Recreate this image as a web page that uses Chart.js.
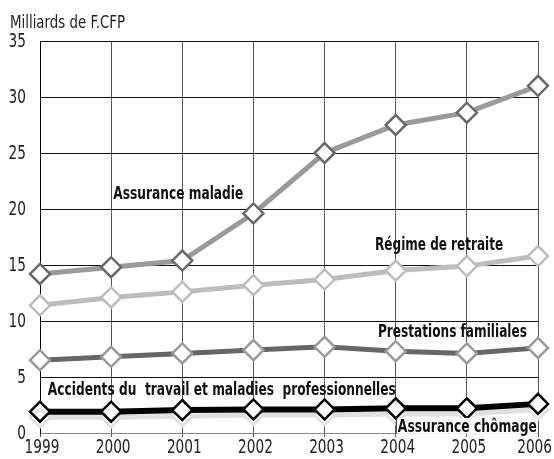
<!DOCTYPE html>
<html>
<head>
<meta charset="utf-8">
<script src="https://cdn.jsdelivr.net/npm/chart.js@4/dist/chart.umd.min.js"></script>
<style>
  html, body { margin: 0; padding: 0; background: #fff; }
  #wrap { width: 554px; height: 459px; }
</style>
</head>
<body>
<div id="wrap"><canvas id="chart" width="554" height="459"></canvas></div>
<script>
// ===== DATA =====
const years = ['1999', '2000', '2001', '2002', '2003', '2004', '2005', '2006'];
const maladie = [14.2, 14.8, 15.4, 19.6, 25.0, 27.5, 28.6, 31.0];
const retraite = [11.4, 12.1, 12.6, 13.2, 13.7, 14.5, 14.9, 15.8];
const familiales = [6.5, 6.8, 7.1, 7.4, 7.7, 7.3, 7.1, 7.6];
const accidents = [1.9, 1.9, 2.05, 2.1, 2.1, 2.2, 2.2, 2.6];
const chomage = [1.4, 1.4, 1.5, 1.6, 1.6, 1.7, 1.7, 2.1];
const yTicks = [0, 5, 10, 15, 20, 25, 30, 35];
const unitLabel = 'Milliards de F.CFP';

// series labels: [text, x index, y value, width, white background]
const seriesLabels = [
  ['Assurance maladie', 1.03, 20.9, 130, false],
  ['Régime de retraite', 4.71, 16.3, 128, false],
  ['Prestations familiales', 4.75, 8.6, 149, false],
  ['Accidents du  travail et maladies  professionnelles', 0.11, 3.4, 348, false],
  ['Assurance chômage', 5.03, 0.1, 139, true]
];

const FONT = "'DejaVu Sans Condensed', 'DejaVu Sans', sans-serif";
const SQUEEZE = 0.76; // condensed look for the tick labels

function serie(label, data, line, border, width, order) {
  return {
    label: label,
    data: data,
    borderColor: line,
    borderWidth: width,
    pointStyle: 'rectRot',
    pointRadius: 10,
    pointBorderWidth: 2.5,
    pointBorderColor: border,
    pointBackgroundColor: '#fff',
    tension: 0,
    order: order
  };
}

// ===== TEXT PLUGIN (ticks, unit, series names) =====
const labelPlugin = {
  id: 'labels',
  afterDraw(chart) {
    const ctx = chart.ctx;
    const xs = chart.scales.x, ys = chart.scales.y;
    ctx.save();
    ctx.fillStyle = '#222';

    // tick labels
    ctx.font = '20px ' + FONT;
    ctx.textBaseline = 'middle';
    ctx.textAlign = 'right';
    ys.ticks.forEach(t => {
      const s = String(t.value);
      const w = ctx.measureText(s).width * SQUEEZE;
      ctx.fillText(s, 26, ys.getPixelForValue(t.value) + 1, w);
    });
    years.forEach((y, i) => {
      const w = ctx.measureText(y).width * SQUEEZE;
      const cx = Math.min(xs.getPixelForValue(i) + 2, 552 - w / 2);
      ctx.textAlign = 'center';
      ctx.fillText(y, cx, 448, w);
    });

    // unit
    ctx.textAlign = 'left';
    ctx.textBaseline = 'alphabetic';
    ctx.font = '18px ' + FONT;
    ctx.fillText(unitLabel, 10, 28, 115);

    // series names
    ctx.font = 'bold 18px ' + FONT;
    seriesLabels.forEach(l => {
      const px = xs.left + (xs.right - xs.left) * l[1] / (years.length - 1);
      const py = ys.getPixelForValue(l[2]);
      if (l[4]) {
        ctx.fillStyle = '#fff';
        ctx.fillRect(px, py - 14, l[3], 16);
        ctx.strokeStyle = '#333';
        ctx.lineWidth = 1;
        ctx.beginPath();
        ctx.moveTo(px - 1.5, py - 14);
        ctx.lineTo(px - 1.5, py + 1);
        ctx.stroke();
      }
      ctx.fillStyle = '#111';
      ctx.fillText(l[0], px, py, l[3]);
    });
    ctx.restore();
  }
};

// ===== CHART =====
function initChart() {
  new Chart(document.getElementById('chart'), {
    type: 'line',
    data: {
      labels: years,
      datasets: [
        serie('Accidents du travail et maladies professionnelles', accidents, '#000', '#000', 6, 0),
        serie('Assurance chômage', chomage, '#e0e0e0', '#e0e0e0', 5, 1),
        serie('Prestations familiales', familiales, '#666', '#9a9a9a', 5, 2),
        serie('Régime de retraite', retraite, '#bdbdbd', '#bdbdbd', 5, 3),
        serie('Assurance maladie', maladie, '#9a9a9a', '#6a6a6a', 5, 4)
      ]
    },
    options: {
      responsive: false,
      animation: false,
      layout: { padding: { top: 41, right: 16, left: 0, bottom: 0 } },
      plugins: { legend: { display: false }, tooltip: { enabled: false } },
      scales: {
        x: {
          offset: false,
          grid: { color: '#555', lineWidth: 1, tickLength: 4, drawTicks: true },
          border: { color: '#888', width: 1 },
          ticks: { display: false, autoSkip: false },
          afterFit(s) { s.height = 26; }
        },
        y: {
          min: 0,
          max: 35,
          afterBuildTicks(s) { s.ticks = yTicks.map(v => ({ value: v })); },
          grid: { color: '#111', lineWidth: 1, drawTicks: false },
          border: { color: '#000', width: 1 },
          ticks: { display: false },
          afterFit(s) { s.width = 40; }
        }
      }
    },
    plugins: [labelPlugin]
  });
}

window.addEventListener('load', initChart);
</script>
</body>
</html>
